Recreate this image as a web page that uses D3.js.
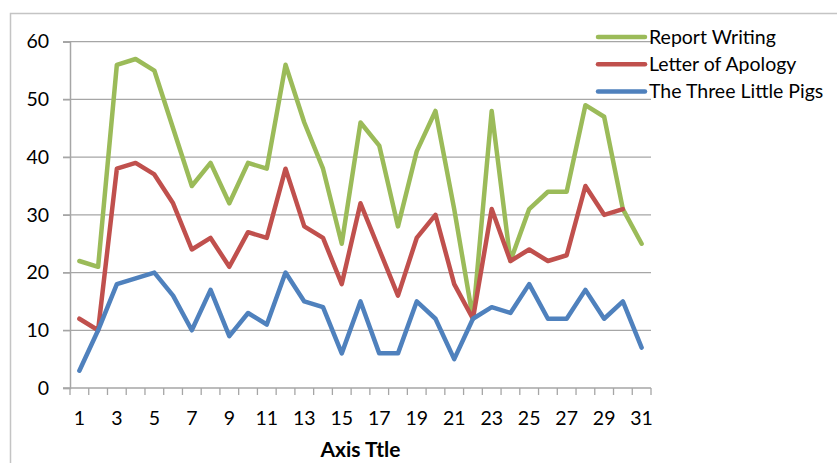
<!DOCTYPE html>
<html>
<head>
<meta charset="utf-8">
<script src="https://cdn.jsdelivr.net/npm/d3@7/dist/d3.min.js"></script>
<style>
  html, body { margin: 0; padding: 0; background: #fff; }
  svg { display: block; }
  text { font-family: Lato, "Open Sans", sans-serif; fill: #000; }
</style>
</head>
<body>
<svg id="chart" width="837" height="463"></svg>
<script>
const categories = d3.range(1, 32);
const seriesNames = ["Report Writing", "Letter of Apology", "The Three Little Pigs"];
const reportWriting = [22, 21, 56, 57, 55, 45, 35, 39, 32, 39, 38, 56, 46, 38, 25, 46, 42, 28, 41, 48, 31, 12, 48, 22, 31, 34, 34, 49, 47, 31, 25];
const letterOfApology = [12, 10, 38, 39, 37, 32, 24, 26, 21, 27, 26, 38, 28, 26, 18, 32, 24, 16, 26, 30, 18, 12, 31, 22, 24, 22, 23, 35, 30, 31, null];
const threeLittlePigs = [3, 10, 18, 19, 20, 16, 10, 17, 9, 13, 11, 20, 15, 14, 6, 15, 6, 6, 15, 12, 5, 12, 14, 13, 18, 12, 12, 17, 12, 15, 7];
const yTicks = [0, 10, 20, 30, 40, 50, 60];
const xAxisTitle = "Axis Ttle";
const colors = ["#9BBB59", "#C0504D", "#4F81BD"];

const series = [
  { name: seriesNames[0], values: reportWriting, color: colors[0] },
  { name: seriesNames[1], values: letterOfApology, color: colors[1] },
  { name: seriesNames[2], values: threeLittlePigs, color: colors[2] }
];

const svg = d3.select("#chart");
const mLeft = 70, mRight = 651, mTop = 41.7, mBottom = 388;

// outer chart border (left and top only visible)
svg.append("path")
  .attr("d", `M10.5,463 L10.5,13.5 L837,13.5`)
  .attr("fill", "none").attr("stroke", "#c4c4c4").attr("stroke-width", 1.5);

const x = d3.scaleBand().domain(categories).range([mLeft, mRight]).padding(0);
const y = d3.scaleLinear().domain([0, 60]).range([mBottom, mTop]);

// gridlines
svg.append("g").selectAll("line").data(yTicks.filter(d => d > 0)).join("line")
  .attr("x1", mLeft - 7).attr("x2", mRight)
  .attr("y1", d => y(d)).attr("y2", d => y(d))
  .attr("stroke", "#a6a6a6").attr("stroke-width", 1.3);

// y axis
const yAxis = d3.axisLeft(y).tickValues(yTicks).tickSize(7).tickPadding(14);
const gy = svg.append("g").attr("transform", `translate(${mLeft},0)`).call(yAxis);
gy.select(".domain").attr("stroke", "#a6a6a6").attr("stroke-width", 1.5);
gy.selectAll(".tick line").attr("stroke", "#a6a6a6").attr("stroke-width", 1.3);
gy.selectAll(".tick text").attr("font-family", "Lato, sans-serif").attr("font-size", 19.5).attr("fill", "#000");

// x axis: baseline with ticks at band boundaries
const gx = svg.append("g").attr("transform", `translate(0,${mBottom})`);
gx.append("line").attr("x1", mLeft - 7).attr("x2", mRight).attr("y1", 0).attr("y2", 0)
  .attr("stroke", "#a6a6a6").attr("stroke-width", 1.5);
const boundaries = categories.map(c => x(c)).concat([x(categories[categories.length - 1]) + x.bandwidth()]);
gx.selectAll("line.tk").data(boundaries).join("line").attr("class", "tk")
  .attr("x1", d => d).attr("x2", d => d).attr("y1", 0).attr("y2", 7)
  .attr("stroke", "#a6a6a6").attr("stroke-width", 1.3);
gx.selectAll("text.lbl").data(categories.filter(c => c % 2 === 1)).join("text").attr("class", "lbl")
  .attr("x", d => x(d) + x.bandwidth() / 2).attr("y", 37)
  .attr("text-anchor", "middle").attr("font-size", 19.5).text(d => d);

svg.append("text").attr("x", (mLeft + mRight) / 2).attr("y", 457)
  .attr("text-anchor", "middle").attr("font-size", 21).attr("font-weight", "bold").text(xAxisTitle);

// lines
const line = d3.line()
  .defined(d => d != null)
  .x((d, i) => x(categories[i]) + x.bandwidth() / 2)
  .y(d => y(d));

svg.append("g").selectAll("path").data(series).join("path")
  .attr("d", d => line(d.values))
  .attr("fill", "none").attr("stroke", d => d.color)
  .attr("stroke-width", 4.5).attr("stroke-linejoin", "round").attr("stroke-linecap", "round");

// legend
const lg = svg.append("g");
series.forEach((s, i) => {
  const yy = 37 + i * 27.3;
  lg.append("line").attr("x1", 598).attr("x2", 645).attr("y1", yy).attr("y2", yy)
    .attr("stroke", s.color).attr("stroke-width", 4.5).attr("stroke-linecap", "round");
  lg.append("text").attr("x", 649).attr("y", yy).attr("dy", "0.35em")
    .attr("font-size", 19.5).text(s.name);
});
</script>
</body>
</html>
